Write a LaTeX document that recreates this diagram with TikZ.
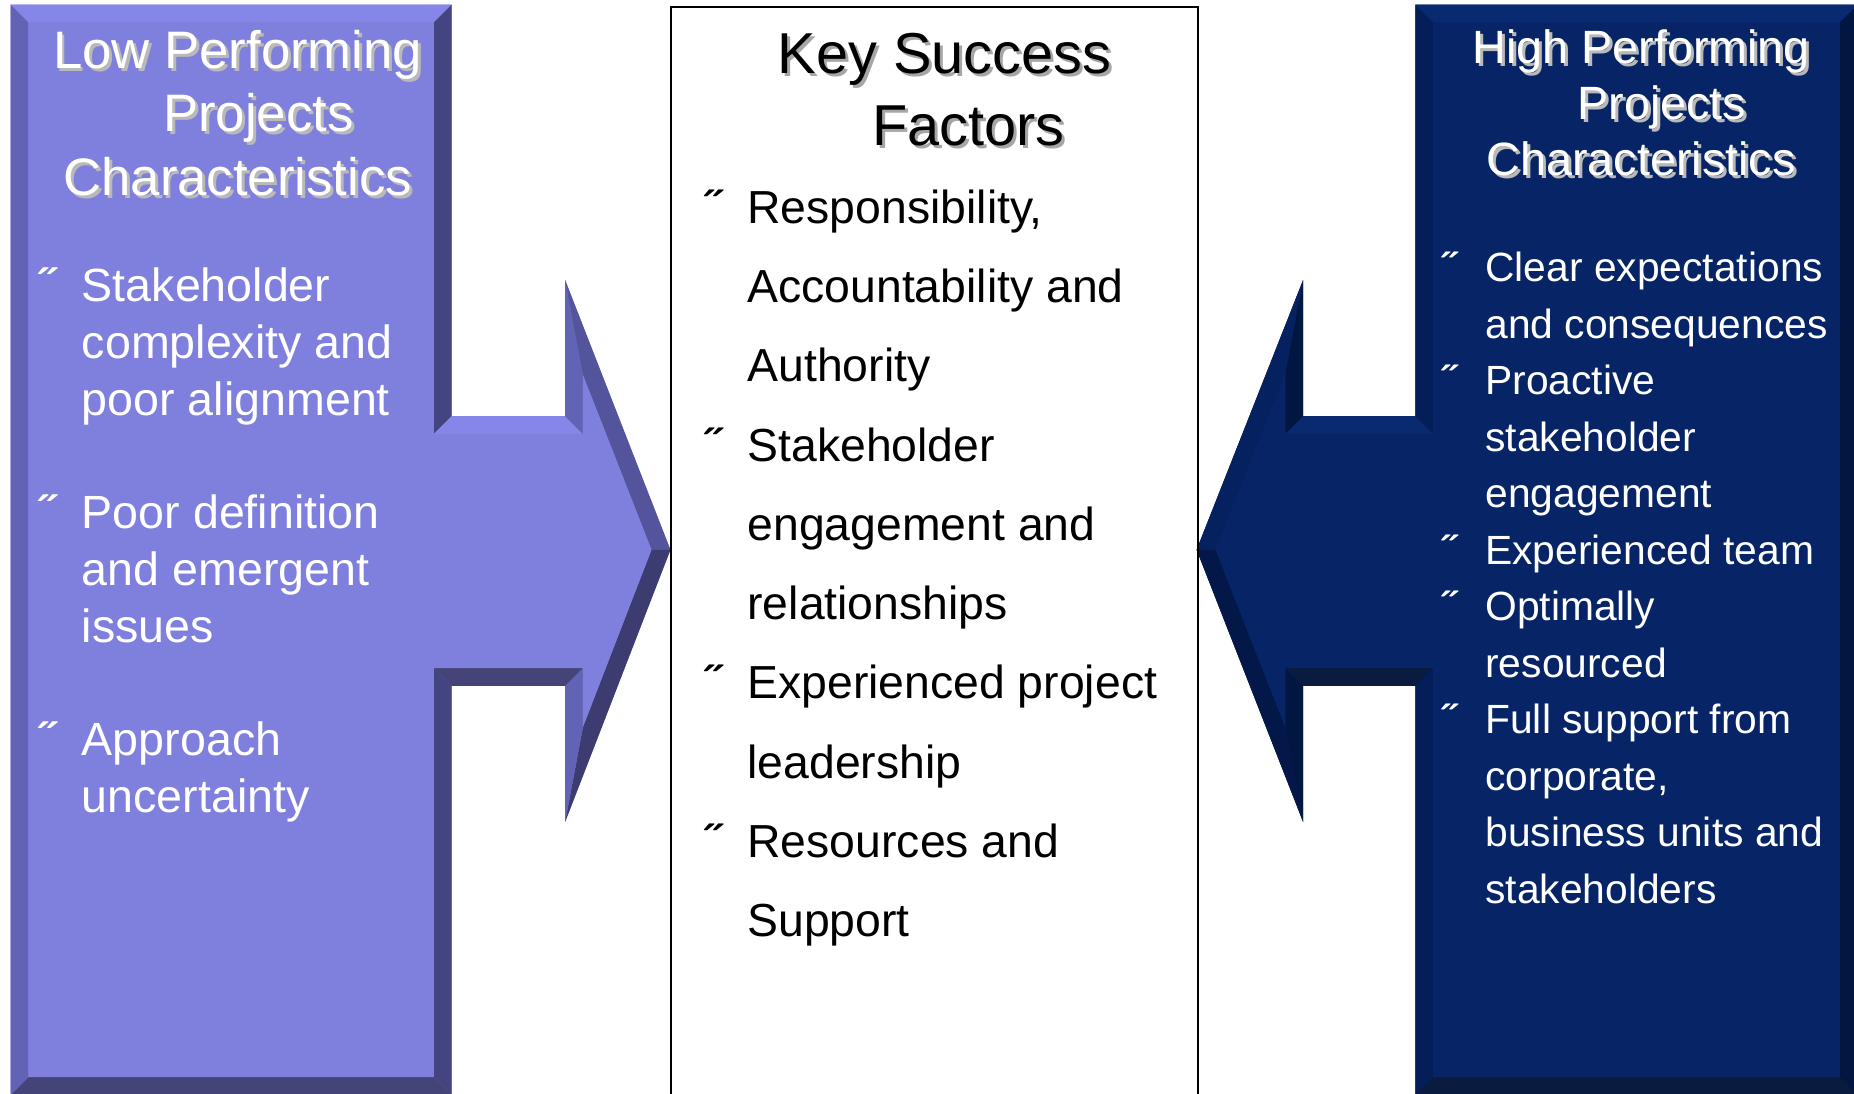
\documentclass[tikz,border=0pt]{standalone}
\usepackage{fontspec}
\setmainfont{Liberation Sans}
\usepackage{tikz}

\definecolor{lowfill}{RGB}{127,127,221}
\definecolor{lowtop}{RGB}{134,134,232}
\definecolor{lowleft}{RGB}{99,99,181}
\definecolor{lowright}{RGB}{68,68,128}
\definecolor{lowbot}{RGB}{68,68,120}
\definecolor{lowdiagup}{RGB}{84,84,156}
\definecolor{lowdiagdn}{RGB}{60,60,112}
\definecolor{highfill}{RGB}{6,36,102}
\definecolor{hightop}{RGB}{9,41,112}
\definecolor{highleft}{RGB}{4,30,90}
\definecolor{highright}{RGB}{2,22,66}
\definecolor{highbot}{RGB}{10,27,64}
\definecolor{highdiagup}{RGB}{5,33,96}
\definecolor{highdiagdn}{RGB}{3,24,72}
\definecolor{ttlshade}{RGB}{185,185,185}

\newcommand{\ksbul}{\llap{\makebox[35pt][l]{\bfseries ˝}}}

\begin{document}
\begin{tikzpicture}[x=1pt,y=-1pt]
	\tikzset{ttl/.style={anchor=base, align=center, inner sep=0pt}}
	\tikzset{bodytext/.style={anchor=base west, align=left, inner sep=0pt}}
	\useasboundingbox (0,0) rectangle (1568,925);
	\clip (0,0) rectangle (1568,925);

	%---LOW SHAPE---
	\coordinate (LA) at (9,4);     \coordinate (LA-in) at (24,19);
	\coordinate (LB) at (382,4);   \coordinate (LB-in) at (367,19);
	\coordinate (LC) at (382,352); \coordinate (LC-in) at (367,367);
	\coordinate (LD) at (478,352); \coordinate (LD-in) at (493,367);
	\coordinate (LE) at (478,237); \coordinate (LE-in) at (493,317);
	\coordinate (LF) at (567,465); \coordinate (LF-in) at (551,465);
	\coordinate (LG) at (478,695); \coordinate (LG-in) at (493,615);
	\coordinate (LH) at (478,580); \coordinate (LH-in) at (493,565);
	\coordinate (LI) at (382,580); \coordinate (LI-in) at (367,565);
	\coordinate (LJ) at (382,926); \coordinate (LJ-in) at (367,911);
	\coordinate (LK) at (9,926);   \coordinate (LK-in) at (24,911);

	\fill[lowfill] (LA) -- (LB) -- (LC) -- (LD) -- (LE) -- (LF) -- (LG) -- (LH) -- (LI) -- (LJ) -- (LK) -- cycle;
	\foreach \p/\q/\c in {LA/LB/lowtop, LB/LC/lowright, LC/LD/lowtop, LD/LE/lowleft, LE/LF/lowdiagup, LF/LG/lowdiagdn,
	                      LG/LH/lowleft, LH/LI/lowbot, LI/LJ/lowright, LJ/LK/lowbot, LK/LA/lowleft}
		\fill[\c] (\p) -- (\q) -- (\q-in) -- (\p-in) -- cycle;
	\fill[lowfill] (LA-in) -- (LB-in) -- (LC-in) -- (LD-in) -- (LE-in) -- (LF-in) -- (LG-in) -- (LH-in) -- (LI-in) -- (LJ-in) -- (LK-in) -- cycle;

	%---HIGH SHAPE---
	\coordinate (RA) at (1571,4);   \coordinate (RA-in) at (1556,19);
	\coordinate (RB) at (1197,4);   \coordinate (RB-in) at (1212,19);
	\coordinate (RC) at (1197,352); \coordinate (RC-in) at (1212,367);
	\coordinate (RD) at (1102,352); \coordinate (RD-in) at (1087,367);
	\coordinate (RE) at (1102,237); \coordinate (RE-in) at (1087,316);
	\coordinate (RF) at (1012,465); \coordinate (RF-in) at (1028,465);
	\coordinate (RG) at (1102,695); \coordinate (RG-in) at (1087,615);
	\coordinate (RH) at (1102,580); \coordinate (RH-in) at (1087,565);
	\coordinate (RI) at (1197,580); \coordinate (RI-in) at (1212,565);
	\coordinate (RJ) at (1197,926); \coordinate (RJ-in) at (1212,911);
	\coordinate (RK) at (1571,926); \coordinate (RK-in) at (1556,911);

	\fill[highfill] (RA) -- (RB) -- (RC) -- (RD) -- (RE) -- (RF) -- (RG) -- (RH) -- (RI) -- (RJ) -- (RK) -- cycle;
	\foreach \p/\q/\c in {RA/RB/hightop, RB/RC/highleft, RC/RD/hightop, RD/RE/highright, RE/RF/highdiagup, RF/RG/highdiagdn,
	                      RG/RH/highright, RH/RI/highbot, RI/RJ/highleft, RJ/RK/highbot, RK/RA/highright}
		\fill[\c] (\p) -- (\q) -- (\q-in) -- (\p-in) -- cycle;
	\fill[highfill] (RA-in) -- (RB-in) -- (RC-in) -- (RD-in) -- (RE-in) -- (RF-in) -- (RG-in) -- (RH-in) -- (RI-in) -- (RJ-in) -- (RK-in) -- cycle;

	%---CENTRE BOX---
	\node[draw, line width=1.7pt, anchor=north west, minimum width=445pt, minimum height=940pt, inner sep=0pt] (ksfbox) at (567,5) {};

	%---LABELS--- (anchored on the baseline of the last line)
	\node[ttl, ttlshade, font=\fontsize{44.6}{53.5}\selectfont] (lowtitle-sh) at (203.5,167.5) {Low Performing\\\hspace*{35pt}Projects\\Characteristics};
	\node[ttl, white, font=\fontsize{44.6}{53.5}\selectfont] (lowtitle) at (201,165) {Low Performing\\\hspace*{35pt}Projects\\Characteristics};

	\node[ttl, black!35, font=\fontsize{48.8}{61}\selectfont] (ksftitle-sh) at (801.5,125.5) {Key Success\\\hspace*{40pt}Factors};
	\node[ttl, black, font=\fontsize{48.8}{61}\selectfont] (ksftitle) at (799,123) {Key Success\\\hspace*{40pt}Factors};

	\node[ttl, ttlshade, font=\fontsize{39.5}{47.5}\selectfont] (hightitle-sh) at (1390.5,151) {High Performing\\\hspace*{35pt}Projects\\Characteristics};
	\node[ttl, white, font=\fontsize{39.5}{47.5}\selectfont] (hightitle) at (1388,148.5) {High Performing\\\hspace*{35pt}Projects\\Characteristics};

	\node[bodytext, white, font=\fontsize{39.4}{48}\selectfont] (lowlist) at (69,687)
		{\ksbul Stakeholder\\complexity and\\poor alignment\\[48pt]
		 \ksbul Poor definition\\and emergent\\issues\\[48pt]
		 \ksbul Approach\\uncertainty};

	\node[bodytext, black, font=\fontsize{39.2}{67}\selectfont] (ksflist) at (632,792)
		{\ksbul Responsibility,\\Accountability and\\Authority\\
		 \ksbul Stakeholder\\engagement and\\relationships\\
		 \ksbul Experienced project\\leadership\\
		 \ksbul Resources and\\Support};

	\node[bodytext, white, font=\fontsize{34.5}{47.8}\selectfont] (highlist) at (1256,764)
		{\ksbul Clear expectations\\and consequences\\
		 \ksbul Proactive\\stakeholder\\engagement\\
		 \ksbul Experienced team\\
		 \ksbul Optimally\\resourced\\
		 \ksbul Full support from\\corporate,\\business units and\\stakeholders};

\end{tikzpicture}
\end{document}
